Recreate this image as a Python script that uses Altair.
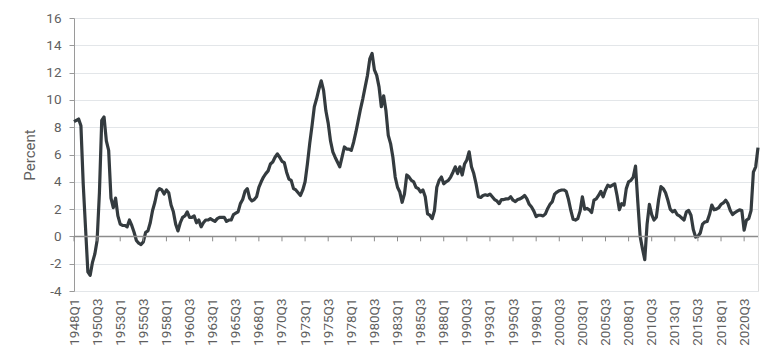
import altair as alt
import pandas as pd

# Quarterly values, 1948Q1 onward
values = [
    8.4, 8.5, 8.6, 8.1, 3.8, 0.6, -2.6, -2.85, -1.9, -1.3,
    -0.3, 3.2, 8.5, 8.75, 7.0, 6.3, 2.8, 2.1, 2.8, 1.5,
    0.9, 0.8, 0.8, 0.7, 1.2, 0.8, 0.3, -0.3, -0.5, -0.6,
    -0.4, 0.3, 0.4, 1.0, 1.9, 2.5, 3.3, 3.5, 3.4, 3.1,
    3.4, 3.2, 2.3, 1.8, 0.9, 0.4, 1.0, 1.4, 1.5, 1.8,
    1.4, 1.4, 1.5, 1.0, 1.2, 0.7, 1.0, 1.2, 1.2, 1.3,
    1.2, 1.1, 1.3, 1.4, 1.4, 1.4, 1.1, 1.2, 1.2, 1.6,
    1.7, 1.8, 2.4, 2.7, 3.3, 3.5, 2.8, 2.6, 2.7, 2.9,
    3.6, 4.0, 4.35, 4.6, 4.8, 5.3, 5.45, 5.8, 6.05, 5.8,
    5.5, 5.4, 4.7, 4.2, 4.1, 3.5, 3.4, 3.2, 3.0, 3.4,
    4.0, 5.3, 6.8, 8.1, 9.5, 10.1, 10.8, 11.4, 10.7, 9.2,
    8.3, 7.0, 6.2, 5.8, 5.45, 5.1, 5.8, 6.55, 6.4, 6.4,
    6.3, 6.9, 7.65, 8.5, 9.35, 10.1, 10.95, 11.8, 13.0, 13.4,
    12.2, 11.8, 10.95, 9.5, 10.3, 9.2, 7.4, 6.8, 5.8, 4.35,
    3.6, 3.25, 2.5, 3.1, 4.5, 4.35, 4.1, 4.0, 3.6, 3.5,
    3.25, 3.4, 2.9, 1.65, 1.55, 1.3, 1.9, 3.6, 4.1, 4.35,
    3.85, 4.0, 4.1, 4.35, 4.7, 5.1, 4.6, 5.1, 4.5, 5.3,
    5.6, 6.2, 5.1, 4.6, 3.85, 2.9, 2.85, 3.0, 3.05, 3.0,
    3.1, 2.9, 2.7, 2.6, 2.4, 2.7, 2.7, 2.75, 2.75, 2.9,
    2.65, 2.55, 2.7, 2.75, 2.85, 3.0, 2.75, 2.35, 2.15, 1.85,
    1.45, 1.55, 1.55, 1.5, 1.65, 2.05, 2.35, 2.55, 3.1, 3.25,
    3.35, 3.4, 3.4, 3.3, 2.7, 1.9, 1.25, 1.2, 1.3, 1.85,
    2.9, 2.0, 2.05, 1.95, 1.75, 2.65, 2.75, 3.0, 3.3, 2.9,
    3.4, 3.75, 3.65, 3.75, 3.85, 3.0, 1.95, 2.4, 2.3, 3.5,
    4.0, 4.1, 4.35, 5.15, 2.5, 0.0, -0.9, -1.7, 0.9, 2.35,
    1.6, 1.2, 1.4, 2.7, 3.65, 3.5, 3.2, 2.65, 2.0, 1.8,
    1.9, 1.6, 1.5, 1.35, 1.2, 1.8, 1.9, 1.55, 0.5, -0.05,
    0.0, 0.25, 0.9, 1.05, 1.1, 1.6, 2.3, 1.95, 2.0, 2.1,
    2.35, 2.45, 2.65, 2.4, 1.9, 1.6, 1.75, 1.85, 1.95, 1.9,
    0.45, 1.2, 1.3, 1.9, 4.7, 5.1, 6.5,
]

quarters = [f"{1948 + i // 4}Q{i % 4 + 1}" for i in range(len(values))]

tick_labels = [
    "1948Q1", "1950Q3", "1953Q1", "1955Q3", "1958Q1", "1960Q3", "1963Q1",
    "1965Q3", "1968Q1", "1970Q3", "1973Q1", "1975Q3", "1978Q1", "1980Q3",
    "1983Q1", "1985Q3", "1988Q1", "1990Q3", "1993Q1", "1995Q3", "1998Q1",
    "2000Q3", "2003Q1", "2005Q3", "2008Q1", "2010Q3", "2013Q1", "2015Q3",
    "2018Q1", "2020Q3",
]

y_ticks = [-4, -2, 0, 2, 4, 6, 8, 10, 12, 14, 16]

FONT = "Roboto"
TEXT = "#5f5f5f"
AXIS = "#9a9a9a"

df = pd.DataFrame({"quarter": quarters, "value": values})
ticks_df = pd.DataFrame({"quarter": tick_labels, "value": [0.0] * len(tick_labels),
                         "y1": [-0.36] * len(tick_labels)})
zero_df = pd.DataFrame({"value": [0.0]})

xscale = alt.Scale(type="point", domain=quarters, padding=0)
yscale = alt.Scale(domain=[-4, 16], nice=False, zero=False)

x_axis = alt.Axis(values=tick_labels, labelAngle=-90, domain=False, ticks=False,
                  grid=False, labelPadding=7, labelFontSize=13.5, labelColor=TEXT,
                  labelFont=FONT, title=None, labelBaseline="middle")
y_axis = alt.Axis(values=y_ticks, grid=True, gridColor="#e3e6e9", gridWidth=1,
                  domainColor=AXIS, tickColor=AXIS, tickSize=5, labelPadding=8,
                  labelFontSize=13.5, labelColor=TEXT, labelFont=FONT,
                  labelExpr="replace(datum.label, '\u2212', '-')",
                  title="Percent", titleFont=FONT, titleFontSize=15,
                  titleFontWeight="normal", titleColor=TEXT, titlePadding=8)

line = alt.Chart(df).mark_line(color="#343b3f", strokeWidth=3.2, strokeJoin="round").encode(
    x=alt.X("quarter:O", scale=xscale, sort=None, axis=x_axis),
    y=alt.Y("value:Q", scale=yscale, axis=y_axis),
)

zero_line = alt.Chart(zero_df).mark_rule(color="#8c8c8c", strokeWidth=1.5).encode(
    y=alt.Y("value:Q", scale=yscale, axis=y_axis),
)

tick_marks = alt.Chart(ticks_df).mark_rule(color="#8c8c8c", strokeWidth=1).encode(
    x=alt.X("quarter:O", scale=xscale, sort=None, axis=x_axis),
    y=alt.Y("value:Q", scale=yscale, axis=y_axis),
    y2="y1:Q",
)

chart = alt.layer(line, zero_line, tick_marks).properties(
    width=684,
    height=273,
    autosize=alt.AutoSizeParams(type="none"),
    padding={"left": 66, "top": 10, "right": 10, "bottom": 62},
).configure_view(stroke=None).configure(background="white")

chart.save("out.html", embed_options={"renderer": "svg", "actions": False})
